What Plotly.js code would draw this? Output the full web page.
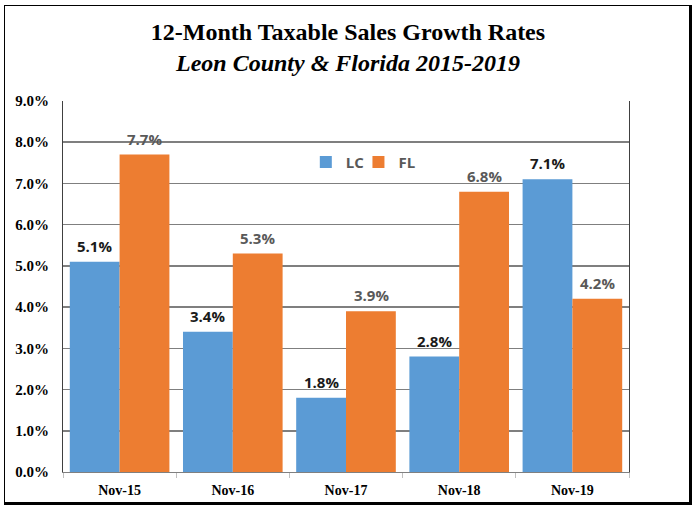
<!DOCTYPE html>
<html>
<head>
<meta charset="utf-8">
<script src="https://cdn.plot.ly/plotly-3.0.1.min.js"></script>
<style>
  html, body { margin: 0; padding: 0; background: #fff; }
  #wrap { position: relative; width: 696px; height: 510px; }
  #chart { position: absolute; left: 0; top: 0; width: 696px; height: 510px; }
  #frame { position: absolute; left: 4px; top: 5px; width: 684px; height: 496px;
           border: 1.5px solid #000; border-right-width: 3px; border-bottom-width: 3px;
           pointer-events: none; }
</style>
</head>
<body>
<div id="wrap">
  <div id="chart"></div>
  <div id="frame"></div>
</div>
<script>
const categories = ["Nov-15", "Nov-16", "Nov-17", "Nov-18", "Nov-19"];
const lcValues = [5.1, 3.4, 1.8, 2.8, 7.1];
const flValues = [7.7, 5.3, 3.9, 6.8, 4.2];
const seriesNames = ["LC", "FL"];
const yTicks = [0, 1, 2, 3, 4, 5, 6, 7, 8, 9];

const blue = "#5B9BD5", orange = "#ED7D31";
const labelFont = "Open Sans, Liberation Sans, Arial, sans-serif";

const traces = [
  { type: "bar", name: seriesNames[0], x: categories, y: lcValues,
    marker: { color: blue }, hoverinfo: "skip", legend: "legend" },
  { type: "bar", name: seriesNames[1], x: categories, y: flValues,
    marker: { color: orange }, hoverinfo: "skip", legend: "legend2" }
];

const annotations = [];
categories.forEach((c, i) => {
  annotations.push({ x: c, y: lcValues[i], xref: "x", yref: "y", xshift: -25, yshift: 4,
    yanchor: "bottom", showarrow: false, text: "<b>" + lcValues[i].toFixed(1) + "%</b>",
    font: { family: labelFont, size: 15, color: "#1a1a1a" } });
  annotations.push({ x: c, y: flValues[i], xref: "x", yref: "y", xshift: 25, yshift: 4,
    yanchor: "bottom", showarrow: false, text: "<b>" + flValues[i].toFixed(1) + "%</b>",
    font: { family: labelFont, size: 15, color: "#595959" } });
});

const legendBase = {
  orientation: "h", y: 0.835, yanchor: "middle", xanchor: "left",
  bgcolor: "rgba(255,255,255,0)",
  font: { family: labelFont, size: 15, color: "#595959", weight: "bold" },
  itemwidth: 30
};

const layout = {
  width: 696, height: 510,
  margin: { l: 63, r: 67, t: 101, b: 38 },
  paper_bgcolor: "#fff", plot_bgcolor: "#fff",
  title: {
    text: "<b>12-Month Taxable Sales Growth Rates</b><br><b><i>Leon County &amp; Florida 2015-2019</i></b>",
    font: { family: "Liberation Serif, Times New Roman, serif", size: 24, color: "#000" },
    x: 0.5, xanchor: "center", yref: "container", y: 0.922, yanchor: "top"
  },
  barmode: "group", bargap: 0.12, bargroupgap: 0,
  xaxis: {
    type: "category", showgrid: false,
    showline: true, linecolor: "#808080", linewidth: 1,
    ticks: "outside", tickson: "boundaries", ticklen: 5, tickcolor: "#c0c0c0",
    ticklabelstandoff: 5,
    tickfont: { family: "Liberation Serif, Times New Roman, serif", size: 14, color: "#000", weight: "bold" },
    fixedrange: true
  },
  yaxis: {
    range: [0, 9], tickvals: yTicks, ticktext: yTicks.map(v => v.toFixed(1) + "%"),
    showgrid: true, gridcolor: "#7f7f7f", gridwidth: 1.5,
    showline: true, mirror: true, linecolor: "#404040", linewidth: 1,
    zeroline: false, ticks: "", ticklabelstandoff: 10,
    tickfont: { family: "Liberation Serif, Times New Roman, serif", size: 15, color: "#000", weight: "bold" },
    fixedrange: true
  },
  showlegend: true,
  legend: Object.assign({}, legendBase, { x: 0.429 }),
  legend2: Object.assign({}, legendBase, { x: 0.522 }),
  annotations: annotations
};

Plotly.newPlot("chart", traces, layout, { displayModeBar: false, staticPlot: true });
</script>
</body>
</html>
